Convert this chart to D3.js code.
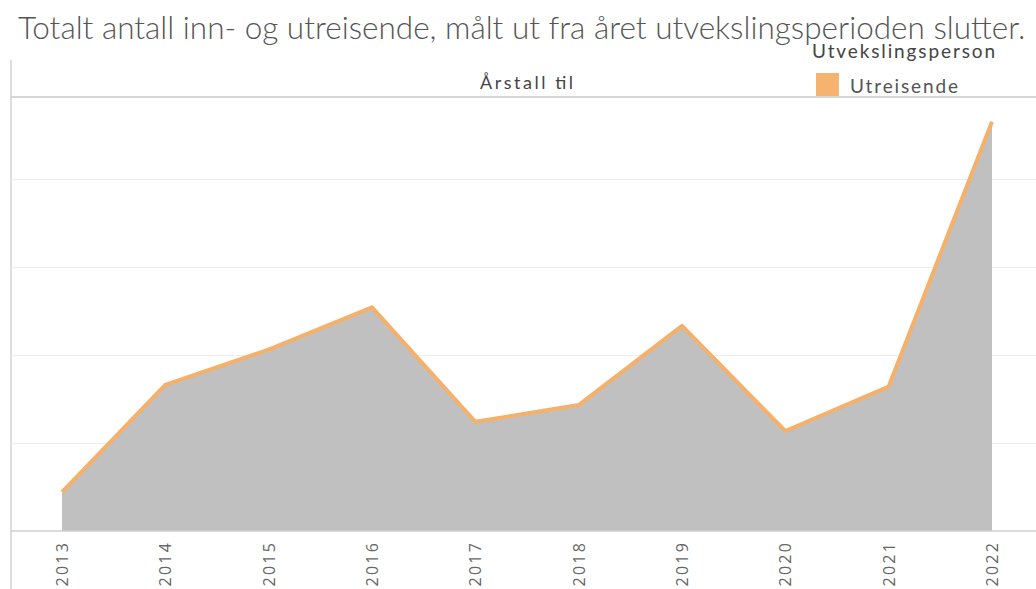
<!DOCTYPE html>
<html>
<head>
<meta charset="utf-8">
<script src="https://cdn.jsdelivr.net/npm/d3@7"></script>
<style>
  body { margin: 0; background: #fff; }
  text { font-family: Lato, "Open Sans", sans-serif; }
</style>
</head>
<body>
<script>
// data (y units are relative, gridline = 1000)
const years = ["2013", "2014", "2015", "2016", "2017", "2018", "2019", "2020", "2021", "2022"];
const utreisende = [430, 1650, 2050, 2530, 1230, 1420, 2320, 1125, 1630, 4640];
const gridTicks = [1000, 2000, 3000, 4000];

const titleText = "Totalt antall inn- og utreisende, målt ut fra året utvekslingsperioden slutter.";
const headerText = "Årstall til";
const legendTitle = "Utvekslingsperson";
const legendLabel = "Utreisende";

const W = 1036, H = 589;
const margin = {top: 97, right: 0, bottom: 58, left: 11};
const data = years.map((y, i) => ({year: y, value: utreisende[i]}));

const svg = d3.select("body").append("svg")
    .attr("width", W)
    .attr("height", H);

// scales
const x = d3.scalePoint().domain(years).range([62, 992]);
const y = d3.scaleLinear().domain([0, 4932]).range([H - margin.bottom, margin.top]);

// title
const title = svg.append("text")
    .attr("x", 18)
    .attr("y", 39)
    .attr("fill", "#555")
    .style("font-weight", 300)
    .style("font-size", "25px")
    .text(titleText);
// fit title width to reference
const tw = title.node().getComputedTextLength();
title.style("font-size", (25 * 1008 / tw) + "px");

// header
svg.append("text")
    .attr("x", 480)
    .attr("y", 89)
    .attr("fill", "#444")
    .style("font-size", "18px")
    .attr("textLength", 93)
    .attr("lengthAdjust", "spacing")
    .text(headerText);

// legend
svg.append("text")
    .attr("x", 812)
    .attr("y", 58)
    .attr("fill", "#444")
    .style("font-size", "19px")
    .attr("textLength", 183)
    .attr("lengthAdjust", "spacing")
    .text(legendTitle);
svg.append("rect")
    .attr("x", 816)
    .attr("y", 73)
    .attr("width", 23)
    .attr("height", 23)
    .attr("fill", "#f6b26f");
svg.append("text")
    .attr("x", 850)
    .attr("y", 93)
    .attr("fill", "#555")
    .style("font-size", "19px")
    .attr("textLength", 108)
    .attr("lengthAdjust", "spacing")
    .text(legendLabel);

// frame lines
svg.append("line")
    .attr("x1", margin.left).attr("x2", W)
    .attr("y1", y.range()[1]).attr("y2", y.range()[1])
    .attr("stroke", "#c8c8c8").attr("stroke-width", 1.5);
svg.append("line")
    .attr("x1", margin.left).attr("x2", margin.left)
    .attr("y1", 60).attr("y2", H)
    .attr("stroke", "#d2d2d2").attr("stroke-width", 1.5);

// gridlines
svg.append("g")
    .attr("transform", "translate(" + margin.left + ",0)")
    .call(d3.axisLeft(y).tickValues(gridTicks).tickSize(-(W - margin.left)).tickFormat(""))
    .call(g => g.select(".domain").remove())
    .call(g => g.selectAll(".tick line").attr("stroke", "#ececec").attr("stroke-width", 1.2));

// area
svg.append("path")
    .datum(data)
    .attr("fill", "#c0c0c0")
    .attr("d", d3.area()
        .x(d => x(d.year))
        .y0(y(0))
        .y1(d => y(d.value)));

// line
svg.append("path")
    .datum(data)
    .attr("fill", "none")
    .attr("stroke", "#f5b06a")
    .attr("stroke-width", 4)
    .attr("stroke-linejoin", "round")
    .attr("transform", "translate(0,-1)")
    .attr("d", d3.line()
        .x(d => x(d.year))
        .y(d => y(d.value)));

// x axis
const xAxis = svg.append("g")
    .attr("transform", "translate(0," + y(0) + ")")
    .call(d3.axisBottom(x).tickSize(0).tickPadding(0));
xAxis.select(".domain")
    .attr("d", "M" + margin.left + ",0H" + W)
    .attr("stroke", "#cfcfcf")
    .attr("stroke-width", 1.5);
xAxis.selectAll(".tick text")
    .attr("transform", "rotate(-90)")
    .attr("x", -10)
    .attr("y", 0)
    .attr("dy", "0.35em")
    .attr("text-anchor", "end")
    .attr("fill", "#666")
    .style("font-family", "'Open Sans', sans-serif")
    .style("font-size", "16px")
    .style("letter-spacing", "2.2px");
</script>
</body>
</html>
